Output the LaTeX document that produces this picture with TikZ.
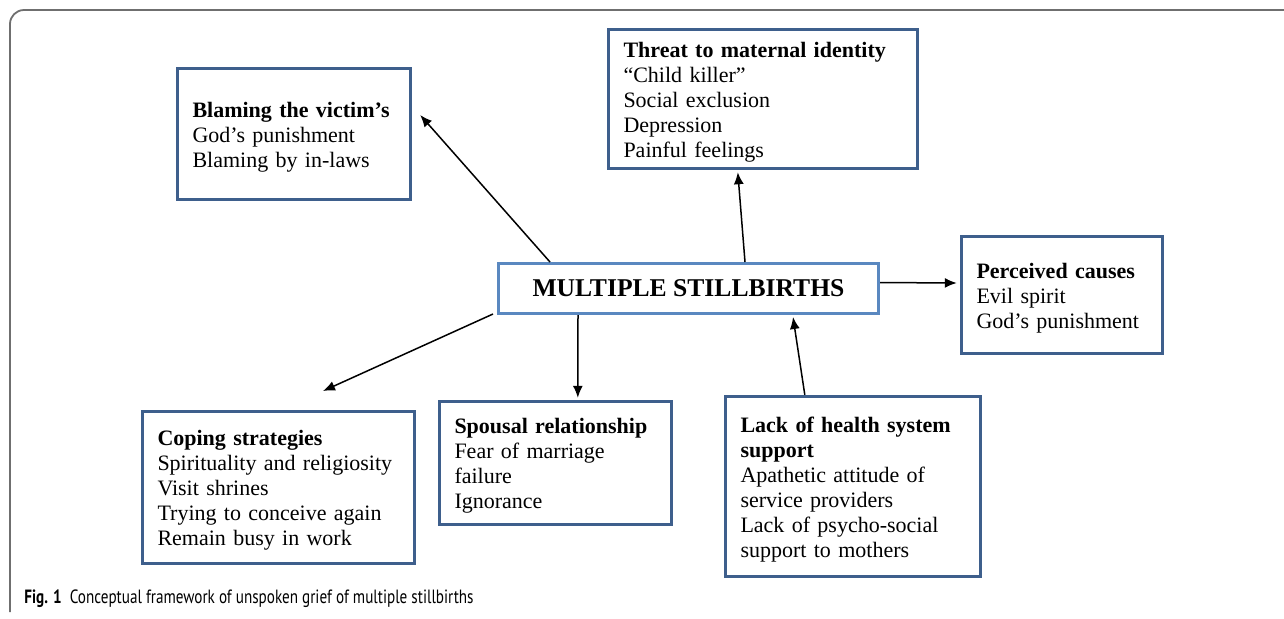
\documentclass[tikz,border=0pt]{standalone}
\usepackage{fontspec}
\setmainfont{Liberation Serif}
\newfontfamily\capfont[FakeStretch=0.79]{PT Sans}
\usetikzlibrary{arrows.meta}
\definecolor{boxblue}{HTML}{3E5F8C}
\definecolor{ctrblue}{HTML}{5A88C0}
\definecolor{framegray}{HTML}{6F6F6F}
\begin{document}
\begin{tikzpicture}[x=0.5pt,y=-0.5pt,
  box/.style={draw=boxblue, line width=1.7pt, align=left, inner xsep=7.5pt, inner ysep=0pt,
    font=\fontsize{11}{12.5}\selectfont, fill=white, execute at begin node={\rule{0pt}{10.5pt}}},
  ctrbox/.style={draw=ctrblue, line width=1.5pt, align=center, inner sep=0pt,
    font=\fontsize{12.8}{14}\selectfont\bfseries, fill=white},
  conn/.style={line width=0.75pt, -{Latex[length=6pt,width=5pt]}},
  frame/.style={draw=framegray, line width=0.9pt}]
\useasboundingbox (0,0) rectangle (1284,618);
% outer frame
\draw[frame] (1284,10) -- (24,10) arc[start angle=90, end angle=180, radius=7pt] -- (10,612);
% nodes
\node[ctrbox, minimum width=190pt, minimum height=25pt] (ctr) at (688.5,288.5) {MULTIPLE STILLBIRTHS};
\node[box, text width=101.5pt, minimum height=65.5pt] (blame) at (294,134)
  {\textbf{Blaming the victim’s}\\God’s punishment\\Blaming by in-laws};
\node[box, text width=139.5pt, minimum height=69.5pt] (threat) at (763,99)
  {\textbf{Threat to maternal identity}\\“Child killer”\\Social exclusion\\Depression\\Painful feelings};
\node[box, text width=85.5pt, minimum height=58.5pt] (perc) at (1062,295)
  {\textbf{Perceived causes}\\Evil spirit\\God’s punishment};
\node[box, text width=121pt, minimum height=76pt] (coping) at (278.5,487.5)
  {\textbf{Coping strategies}\\Spirituality and religiosity\\Visit shrines\\Trying to conceive again\\Remain busy in work};
\node[box, text width=101pt, minimum height=61.5pt] (spousal) at (555.5,463)
  {\textbf{Spousal relationship}\\Fear of marriage\\failure\\Ignorance};
\node[box, text width=112.5pt, minimum height=90pt] (lack) at (853,486.5)
  {\textbf{Lack of health system}\\\textbf{support}\\Apathetic attitude of\\service providers\\Lack of psycho-social\\support to mothers};
\coordinate (copend) at (323,391);
% connectors
\draw[conn] ([xshift=26.5pt]ctr.north west) -- ([xshift=4pt,yshift=9.5pt]blame.east);
\draw[conn] ([xshift=124pt]ctr.north west) -- ([xshift=65.5pt,yshift=-1pt]threat.south west);
\draw[conn] ([yshift=3pt]ctr.east) -- ([xshift=-1.5pt,yshift=6pt]perc.west);
\draw[conn] ([xshift=40.5pt]lack.north west) -- ([xshift=148pt,yshift=-1pt]ctr.south west);
\draw[conn] ([xshift=40.5pt]ctr.south west) -- ([xshift=70pt,yshift=1pt]spousal.north west);
\draw[conn] ([xshift=-2pt,yshift=0.5pt]ctr.south west) -- (copend);
% caption
\node[anchor=base west, inner sep=0pt, font=\capfont\fontsize{9.6}{12}\selectfont] (cap) at (24,603)
  {\textbf{Fig. 1}\hspace{4pt}Conceptual framework of unspoken grief of multiple stillbirths};
\end{tikzpicture}
\end{document}
